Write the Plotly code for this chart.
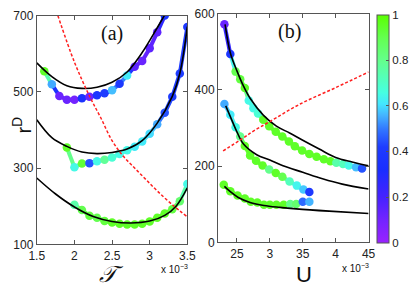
import plotly.graph_objects as go
from plotly.colors import sample_colorscale

W, H = 415, 299

# ---------------- data: panel (a) (x in units of 1e-3) ----------------
a_top_x = [1.6, 1.7, 1.8, 1.9, 2.0, 2.1, 2.2, 2.3, 2.4, 2.5, 2.6, 2.7, 2.8, 2.9, 3.0, 3.1, 3.2]
a_top_y = [554, 520, 489, 479, 479, 483, 487, 491, 496, 504, 521, 543, 566, 581, 614, 656, 700]
a_top_c = [0.95, 0.55, 0.12, 0.12, 0.1, 0.35, 0.12, 0.38, 0.42, 0.57, 0.4, 0.62, 0.15, 0.12, 0.15, 0.15, 0.38]

a_mid_x = [1.9, 2.0, 2.1, 2.2, 2.3, 2.4, 2.5, 2.6, 2.7, 2.8, 2.9, 3.0, 3.1, 3.2, 3.3, 3.4, 3.5]
a_mid_y = [354, 302, 312, 313, 318, 322, 328, 337, 347, 356, 370, 390, 415, 445, 487, 548, 670]
a_mid_c = [0.95, 0.65, 0.93, 0.45, 0.65, 0.78, 0.68, 0.65, 0.65, 0.62, 0.62, 0.6, 0.55, 0.45, 0.42, 0.42, 0.4]

a_bot_x = [2.0, 2.1, 2.2, 2.3, 2.4, 2.5, 2.6, 2.7, 2.8, 2.9, 3.0, 3.1, 3.2, 3.3, 3.4, 3.5]
a_bot_y = [204, 190, 175, 170, 161, 157, 154, 152, 152, 154, 160, 170, 181, 192, 213, 258]
a_bot_c = [0.75, 0.9, 0.92, 0.9, 0.92, 0.95, 0.95, 0.95, 0.95, 0.95, 0.95, 0.95, 0.95, 0.92, 0.85, 0.65]

a_fit_top_x = [1.5, 1.7, 1.9, 2.1, 2.3, 2.5, 2.7, 2.9, 3.1, 3.2]
a_fit_top_y = [576, 540, 516, 509, 512, 525, 552, 603, 668, 702]
a_fit_mid_x = [1.5, 1.7, 1.9, 2.1, 2.3, 2.5, 2.7, 2.9, 3.1, 3.3, 3.4, 3.5]
a_fit_mid_y = [427, 380, 357, 342, 338, 341, 350, 372, 418, 488, 548, 671]
a_fit_bot_x = [1.5, 1.75, 2.0, 2.25, 2.5, 2.75, 3.0, 3.2, 3.35, 3.5]
a_fit_bot_y = [274, 232, 198, 173, 160, 156, 161, 176, 200, 248]

a_red_x = [1.78, 2.0, 2.2, 2.35, 2.5, 2.65, 2.8, 2.95, 3.1, 3.3, 3.5]
a_red_y = [700, 578, 489, 432, 372, 331, 300, 270, 240, 204, 172]

# ---------------- data: panel (b) (x in units of 1e-2) ----------------
b_top_x = [2.31, 2.40, 2.48, 2.55, 2.62, 2.68, 2.75, 2.82, 2.90, 2.99, 3.09, 3.19, 3.29, 3.38,
           3.49, 3.60, 3.71, 3.82, 3.92, 4.01, 4.11, 4.20, 4.31, 4.40]
b_top_y = [572, 494, 448, 428, 405, 372, 352, 338, 322, 305, 290, 278, 265, 252,
           241, 232, 225, 218, 213, 209, 206, 202, 197, 194]
b_top_c = [0.12, 0.38, 0.9, 0.92, 0.95, 0.65, 0.65, 0.68, 0.95, 0.95, 0.95, 0.95, 0.95, 0.95,
           0.95, 0.95, 0.95, 0.95, 0.95, 0.75, 0.72, 0.65, 0.57, 0.45]

b_mid_x = [2.31, 2.40, 2.48, 2.55, 2.62, 2.70, 2.79, 2.89, 2.99, 3.09, 3.19, 3.30, 3.41, 3.51, 3.60]
b_mid_y = [363, 335, 302, 278, 253, 228, 214, 202, 191, 182, 172, 160, 149, 139, 132]
b_mid_c = [0.55, 0.62, 0.65, 0.8, 0.95, 0.95, 0.95, 0.95, 0.8, 0.95, 0.9, 0.72, 0.64, 0.58, 0.4]

b_bot_x = [2.30, 2.40, 2.51, 2.62, 2.71, 2.81, 2.91, 3.00, 3.10, 3.21, 3.31, 3.40, 3.50, 3.60]
b_bot_y = [151, 134, 123, 115, 107, 105, 99, 99, 99, 99, 101, 101, 107, 107]
b_bot_c = [0.95, 0.95, 0.95, 0.95, 0.95, 0.95, 0.95, 0.95, 0.95, 0.95, 0.8, 0.85, 0.48, 0.56]

b_fit_top_x = [2.32, 2.4, 2.5, 2.6, 2.7, 2.9, 3.1, 3.3, 3.5, 3.75, 4.0, 4.25, 4.5]
b_fit_top_y = [572, 497, 450, 410, 378, 334, 305, 287, 268, 245, 223, 211, 201]
b_fit_mid_x = [2.33, 2.4, 2.5, 2.6, 2.8, 3.0, 3.2, 3.5, 3.8, 4.1, 4.5]
b_fit_mid_y = [358, 330, 290, 258, 230, 216, 201, 184, 167, 153, 140]
b_fit_bot_x = [2.31, 2.4, 2.52, 2.7, 2.91, 3.15, 3.4, 3.9, 4.5]
b_fit_bot_y = [147, 133, 118, 105, 97, 92, 88, 82, 76]

b_red_x = [2.29, 2.58, 2.75, 3.0, 3.46, 4.0, 4.5]
b_red_y = [240, 272, 292, 317, 363, 406, 447]

# ---------------- tick labels ----------------
a_xticks = [1.5, 2, 2.5, 3, 3.5]
a_xtext = ["1.5", "2", "2.5", "3", "3.5"]
a_yticks = [100, 300, 500, 700]
b_xticks = [2.5, 3, 3.5, 4, 4.5]
b_xtext = ["25", "3", "35", "4", "45"]
b_yticks = [0, 200, 400, 600]
cb_ticks = [0, 0.2, 0.4, 0.6, 0.8, 1]
cb_text = ["0", "0.2", "0.4", "0.6", "0.8", "1"]

cscale = [
    [0.0, "rgb(153,34,255)"],
    [0.1, "rgb(115,36,255)"],
    [0.2, "rgb(70,34,255)"],
    [0.32, "rgb(26,46,255)"],
    [0.42, "rgb(30,60,255)"],
    [0.5, "rgb(50,120,255)"],
    [0.56, "rgb(68,180,255)"],
    [0.61, "rgb(68,230,255)"],
    [0.66, "rgb(70,255,225)"],
    [0.8, "rgb(100,255,140)"],
    [0.9, "rgb(100,255,80)"],
    [1.0, "rgb(90,255,0)"],
]

fig = go.Figure()


def add_series(xs, ys, cs, xa, ya, scale=False):
    # colored connecting segments
    for i in range(len(xs) - 1):
        col = sample_colorscale(cscale, [(cs[i] + cs[i + 1]) / 2])[0]
        fig.add_trace(go.Scatter(x=[xs[i], xs[i + 1]], y=[ys[i], ys[i + 1]], mode="lines",
                                 line=dict(color=col, width=4), xaxis=xa, yaxis=ya,
                                 hoverinfo="skip"))
    marker = dict(size=8.5, color=cs, colorscale=cscale, cmin=0, cmax=1, line=dict(width=0))
    if scale:
        marker.update(showscale=True, colorbar=dict(
            x=385 / W, xanchor="left", y=1 - 8 / H, yanchor="top",
            len=239 / H, lenmode="fraction", thickness=12, thicknessmode="pixels",
            xpad=0, ypad=0, outlinewidth=1, outlinecolor="#555",
            tickvals=cb_ticks, ticktext=cb_text, ticks="inside", ticklen=3,
            tickcolor="#555", tickfont=dict(size=11.5, color="#222", family="Liberation Sans")))
    fig.add_trace(go.Scatter(x=xs, y=ys, mode="markers", marker=marker, xaxis=xa, yaxis=ya))


def add_line(xs, ys, xa, ya, color, dash=None, width=1.6):
    fig.add_trace(go.Scatter(x=xs, y=ys, mode="lines", xaxis=xa, yaxis=ya,
                             line=dict(color=color, width=width, dash=dash, shape="spline"),
                             hoverinfo="skip"))


# panel (a)
add_series(a_top_x, a_top_y, a_top_c, "x", "y", scale=True)
add_series(a_mid_x, a_mid_y, a_mid_c, "x", "y")
add_series(a_bot_x, a_bot_y, a_bot_c, "x", "y")
add_line(a_fit_top_x, a_fit_top_y, "x", "y", "black")
add_line(a_fit_mid_x, a_fit_mid_y, "x", "y", "black")
add_line(a_fit_bot_x, a_fit_bot_y, "x", "y", "black")
add_line(a_red_x, a_red_y, "x", "y", "#ff2020", dash="3px,2px", width=1.5)

# panel (b)
add_series(b_top_x, b_top_y, b_top_c, "x2", "y2")
add_series(b_mid_x, b_mid_y, b_mid_c, "x2", "y2")
add_series(b_bot_x, b_bot_y, b_bot_c, "x2", "y2")
add_line(b_fit_top_x, b_fit_top_y, "x2", "y2", "black")
add_line(b_fit_mid_x, b_fit_mid_y, "x2", "y2", "black")
add_line(b_fit_bot_x, b_fit_bot_y, "x2", "y2", "black")
add_line(b_red_x, b_red_y, "x2", "y2", "#ff2020", dash="3px,2px", width=1.5)

axis_common = dict(showline=True, mirror="ticks", linecolor="#555", linewidth=1,
                   ticks="inside", ticklen=4, tickcolor="#555", showgrid=False,
                   zeroline=False, tickfont=dict(size=12, color="#222", family="Liberation Sans"))

fig.update_layout(
    width=W, height=H, margin=dict(l=0, r=0, t=0, b=0),
    paper_bgcolor="white", plot_bgcolor="white", showlegend=False,
    xaxis=dict(domain=[30 / W, 187 / W], range=[1.5, 3.5], tickvals=a_xticks,
               ticktext=a_xtext, anchor="y", **axis_common),
    yaxis=dict(domain=[1 - 249 / H, 1 - 9 / H], range=[100, 700], tickvals=a_yticks,
               anchor="x", **axis_common),
    xaxis2=dict(domain=[219 / W, 376 / W], range=[2.213, 4.5], tickvals=b_xticks,
                ticktext=b_xtext, anchor="y2", **axis_common),
    yaxis2=dict(domain=[1 - 247 / H, 1 - 7 / H], range=[0, 600], tickvals=b_yticks,
                anchor="x2", **axis_common),
)


def px_note(text, x, y, size, family="Liberation Sans", angle=0, color="#111", xanchor="center"):
    fig.add_annotation(text=text, x=x / W, y=1 - y / H, xref="paper", yref="paper",
                       showarrow=False, xanchor=xanchor, yanchor="middle", textangle=angle,
                       font=dict(size=size, family=family, color=color))


px_note("(a)", 108, 28, 20, family="Liberation Serif")
px_note("(b)", 294, 26, 20, family="Liberation Serif")
px_note("r<sup>D</sup>", 14, 124, 20, angle=-90)
px_note("<i>𝒯</i>", 108, 280, 23, family="DejaVu Serif")
px_note("U", 309, 281, 22)
px_note("x 10<sup>−3</sup>", 190, 275, 10, xanchor="right")
px_note("x 10<sup>−3</sup>", 379, 274, 10, xanchor="right")

fig.write_html("out.html", config={"displayModeBar": False},
               post_script="document.body.style.margin='0';document.body.style.overflow='hidden';")
